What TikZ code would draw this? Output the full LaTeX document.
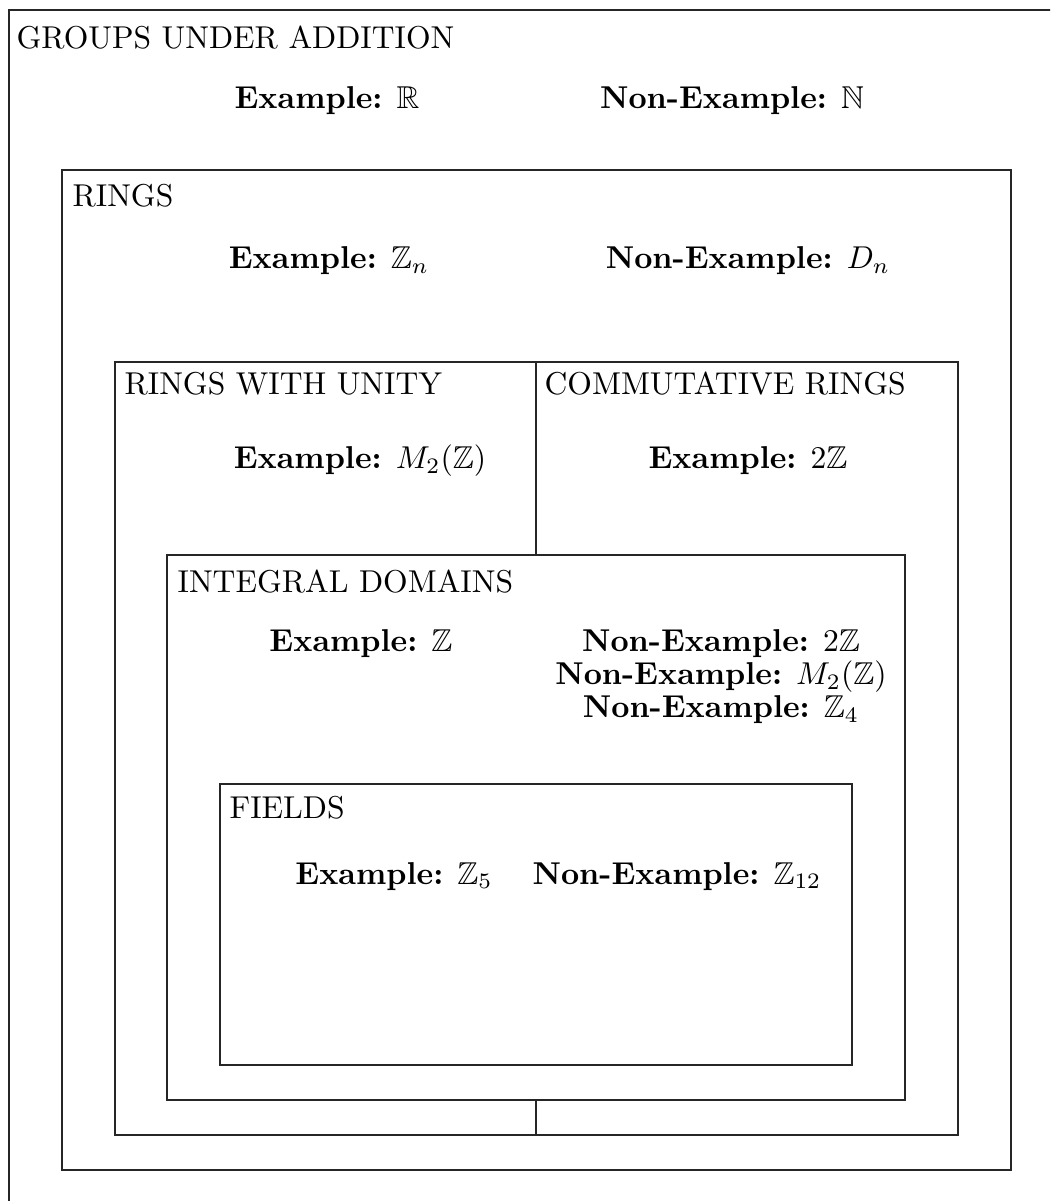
\documentclass[tikz,border=0pt]{standalone}
\usepackage{amssymb}
\begin{document}
\begin{tikzpicture}[x=0.3165pt,y=-0.3165pt,
  box/.style={draw=black!85, line width=0.45pt},
  lbl/.style={anchor=base west, inner sep=0pt},
  ex/.style={anchor=base, inner sep=0pt}]
\useasboundingbox (0,0) rectangle (1050,1201);
\clip (0,0) rectangle (1050,1201);
% boxes
\draw[box, fill=white] (9,10) rectangle (1080,1240);
\draw[box, fill=white] (62,170) rectangle (1011,1170);
\draw[box] (115,362) rectangle (536,1135);
\draw[box] (536,362) rectangle (958,1135);
\draw[box, fill=white] (167,555) rectangle (905,1100);
\draw[box, fill=white] (220,784) rectangle (852,1065);
% labels
\node[lbl] (lgroups) at (16,49) {GROUPS UNDER ADDITION};
\node[lbl] (lrings) at (72,207) {RINGS};
\node[lbl] (lunity) at (124,395) {RINGS WITH UNITY};
\node[lbl] (lcomm) at (544,395) {COMMUTATIVE RINGS};
\node[lbl] (lid) at (177,592) {INTEGRAL DOMAINS};
\node[lbl] (lfields) at (229,818) {FIELDS};
% examples
\node[ex] (e1) at (327,109) {\textbf{Example:} $\mathbb{R}$};
\node[ex] (n1) at (732,109) {\textbf{Non-Example:} $\mathbb{N}$};
\node[ex] (e2) at (329,269) {\textbf{Example:} $\mathbb{Z}_n$};
\node[ex] (n2) at (748,269) {\textbf{Non-Example:} $D_n$};
\node[ex] (e3) at (360,469) {\textbf{Example:} $M_2(\mathbb{Z})$};
\node[ex] (e4) at (748,469) {\textbf{Example:} $2\mathbb{Z}$};
\node[ex] (e5) at (361,651) {\textbf{Example:} $\mathbb{Z}$};
\node[anchor=north, inner sep=0pt, align=center,
      font=\fontsize{10pt}{10.43pt}\selectfont] (n5) at (721,629)
  {\textbf{Non-Example:} $2\mathbb{Z}$\\
   \textbf{Non-Example:} $M_2(\mathbb{Z})$\\
   \textbf{Non-Example:} $\mathbb{Z}_4$};
\node[ex] (e6) at (394,884) {\textbf{Example:} $\mathbb{Z}_5$};
\node[ex] (n6) at (677,884) {\textbf{Non-Example:} $\mathbb{Z}_{12}$};
\end{tikzpicture}
\end{document}
